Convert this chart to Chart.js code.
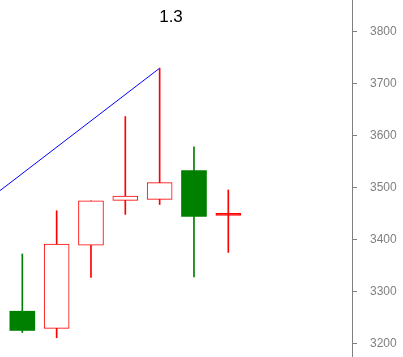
<!DOCTYPE html>
<html>
<head>
<meta charset="utf-8">
<script src="https://cdn.jsdelivr.net/npm/chart.js@4/dist/chart.umd.min.js"></script>
<style>
  html, body { margin: 0; padding: 0; background: #fff; }
  #wrap { width: 403px; height: 357px; }
</style>
</head>
<body>
<div id="wrap"><canvas id="c"></canvas></div>
<script>
// candle data
const idx    = [0, 1, 2, 3, 4, 5, 6];
const opens  = [3262, 3229, 3389, 3475, 3477, 3532, 3446];
const highs  = [3372, 3455, 3474, 3636, 3729, 3578, 3495];
const lows   = [3221, 3211, 3327, 3448, 3467, 3328, 3375];
const closes = [3225, 3391, 3474, 3483, 3509, 3444, 3446];

// blue trend line
const lineX = [-1, 4];
const lineY = [3476, 3729];

const titleText = '1.3';
const yTicks = [3200, 3300, 3400, 3500, 3600, 3700, 3800];

const RED = '#ff0000';
const GREEN = '#008000';

const isDown = idx.map(i => closes[i] < opens[i]);

const titlePlugin = {
    id: 'chartTitle',
    afterDraw(chart) {
        const ctx = chart.ctx;
        ctx.save();
        ctx.fillStyle = '#000';
        ctx.font = '17px "Liberation Sans", Arial, sans-serif';
        ctx.textAlign = 'center';
        ctx.textBaseline = 'alphabetic';
        ctx.fillText(titleText, 171, 22);
        ctx.restore();
    }
};

new Chart(document.getElementById('c'), {
    type: 'bar',
    data: {
        datasets: [
            {
                type: 'line',
                data: lineX.map((x, i) => ({ x: x, y: lineY[i] })),
                borderColor: '#0000ff',
                borderWidth: 1,
                pointRadius: 0,
                tension: 0,
                order: 3
            },
            {
                // wicks
                data: idx.map(i => ({ x: i, y: [lows[i], highs[i]] })),
                backgroundColor: idx.map(i => isDown[i] ? GREEN : RED),
                barThickness: 1,
                grouped: false,
                order: 2
            },
            {
                // bodies
                data: idx.map(i => ({ x: i, y: [opens[i], closes[i]] })),
                backgroundColor: idx.map(i => isDown[i] ? GREEN : (opens[i] === closes[i] ? RED : '#ffffff')),
                borderColor: idx.map(i => isDown[i] ? GREEN : RED),
                borderWidth: idx.map(i => isDown[i] ? 0 : 1),
                borderSkipped: false,
                minBarLength: 2,
                barThickness: 25,
                grouped: false,
                order: 1
            }
        ]
    },
    options: {
        responsive: true,
        maintainAspectRatio: false,
        animation: false,
        layout: { padding: 0 },
        plugins: {
            legend: { display: false },
            tooltip: { enabled: false }
        },
        scales: {
            x: {
                type: 'linear',
                display: false,
                offset: false,
                grid: { offset: false },
                min: -0.65,
                max: 9.603
            },
            y: {
                position: 'right',
                min: 3174,
                max: 3860,
                afterBuildTicks(scale) {
                    scale.ticks = yTicks.map(v => ({ value: v }));
                },
                afterFit(scale) {
                    scale.width = 51;
                    scale.paddingTop = 0;
                    scale.paddingBottom = 0;
                },
                border: { color: '#808080', width: 1 },
                grid: {
                    drawOnChartArea: false,
                    drawTicks: true,
                    tickLength: 5,
                    color: '#808080'
                },
                ticks: {
                    color: '#808080',
                    padding: 13,
                    callback: v => String(v),
                    font: { family: '"Liberation Sans", Arial, sans-serif', size: 12 }
                }
            }
        }
    },
    plugins: [titlePlugin]
});
</script>
</body>
</html>
